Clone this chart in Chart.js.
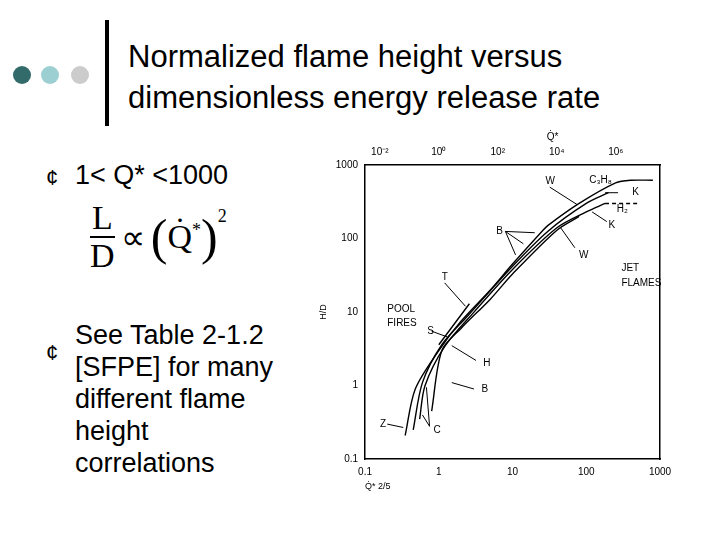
<!DOCTYPE html>
<html><head><meta charset="utf-8">
<script src="https://cdn.jsdelivr.net/npm/chart.js@4"></script>
<style>
body{margin:0;width:720px;height:540px;background:#fff;position:relative;overflow:hidden;font-family:"Liberation Sans",Arial,sans-serif}
.dot{position:absolute;width:18px;height:18px;border-radius:50%;top:66px}
.t{position:absolute;color:#000}
#wrap{position:absolute;left:314px;top:129px;width:380px;height:363px}
</style></head><body>
<div class="dot" style="left:13px;background:#336b6b"></div>
<div class="dot" style="left:41px;background:#9ccfd1"></div>
<div class="dot" style="left:71px;background:#cccccc"></div>
<div style="position:absolute;left:105px;top:20px;width:4px;height:106px;background:#000"></div>
<div class="t" style="left:128px;top:36px;font-size:31px;line-height:41px">Normalized flame height versus<br>dimensionless energy release rate</div>
<div class="t" style="left:46px;top:165px;font-size:22px">¢</div>
<div class="t" style="left:75px;top:160px;font-size:27px">1&lt; Q* &lt;1000</div>
<div class="t" style="left:90px;top:200px;font-family:'Liberation Serif',serif;font-size:34px;display:flex;align-items:center">
 <div style="text-align:center;line-height:36px"><div style="border-bottom:2px solid #000;padding:0 2px">L</div><div>D</div></div>
 <span style="margin:0 6px">∝</span><span style="font-size:50px">(</span><span>Q̇<sup style="font-size:18px">*</sup></span><span style="font-size:50px">)</span><sup style="font-size:18px;align-self:flex-start;margin-top:6px">2</sup>
</div>
<div class="t" style="left:46px;top:340px;font-size:22px">¢</div>
<div class="t" style="left:75px;top:319px;font-size:27px;line-height:32px">See Table 2-1.2<br>[SFPE] for many<br>different flame<br>height<br>correlations</div>
<div id="wrap"><canvas id="c"></canvas></div>
<script>
const xTicks=[0.1,1,10,100,1000];
const yTicks=[0.1,1,10,100,1000];
const topTicks=[0.01,1,100,10000,1000000];
const topLabels=["10⁻²","10⁰","10²","10⁴","10⁶"];
const curveC3H8=[[0.35,0.21],[0.48,0.9],[1.0,3.0],[2,7.5],[5,20],[10,45],[25,125],[30,150],[80,300],[250,570],[400,620],[800,620]];
const curveK=[[0.45,0.25],[0.6,1.1],[1.1,3.6],[2.5,9],[10,42],[30,125],[100,300],[200,420]];
const curveH2=[[0.55,0.35],[0.65,1.0],[1.2,3.4],[3,10],[10,38],[40,140],[100,230],[180,300]];
const curveH2dash=[[180,300],[500,300]];
const curveB=[[0.8,0.45],[1.1,3],[2,6],[5,15],[10,33],[40,130],[80,200]];
const curveT=[[1,3.6],[2.6,13]];
const labels=[["W",[28,600]],["C₃H₈",[110,620]],["K",[420,420]],["H₂",[260,250]],["B",[6,125]],["K",[200,150]],["W",[80,60]],["T",[1.1,30]],["JET",[300,40]],["FLAMES",[300,25]],["POOL",[0.2,11]],["FIRES",[0.2,7]],["S",[0.7,5.5]],["H",[4,2]],["B",[3.8,0.9]],["Z",[0.16,0.3]],["C",[0.85,0.25]]];
const leaders=[[[32,500],[75,290]],[[270,420],[180,420]],[[190,170],[120,230]],[[8,125],[20,120]],[[8,125],[14,85]],[[8,125],[11,60]],[[70,75],[45,140]],[[1.2,25],[2.3,12]],[[0.8,5.5],[1.3,4.6]],[[3.2,2.2],[1.5,3.5]],[[3,0.9],[1.5,1.1]],[[0.2,0.3],[0.33,0.27]],[[0.75,0.28],[0.6,0.4]],[[0.75,0.28],[0.68,0.95]]];
const mk=(d,dash)=>({data:d.map(p=>({x:p[0],y:p[1]})),borderColor:'#000',borderWidth:1.4,pointRadius:0,borderDash:dash||[],tension:0.3,fill:false,xAxisID:'x',yAxisID:'y'});
const ann={id:'ann',afterDatasetsDraw(ch){const c=ch.ctx,x=ch.scales.x,y=ch.scales.y;c.save();c.strokeStyle='#000';c.lineWidth=1;
leaders.forEach(l=>{c.beginPath();c.moveTo(x.getPixelForValue(l[0][0]),y.getPixelForValue(l[0][1]));c.lineTo(x.getPixelForValue(l[1][0]),y.getPixelForValue(l[1][1]));c.stroke();});
c.fillStyle='#000';c.font='10px "Liberation Sans",Arial';c.textAlign='left';c.textBaseline='middle';
labels.forEach(l=>c.fillText(l[0],x.getPixelForValue(l[1][0]),y.getPixelForValue(l[1][1])));
c.font='10px "Liberation Sans"';c.textAlign='center';const t=ch.scales.x2;c.fillText('Q̇*',(x.left+x.right)/2+40,t.top-6);
c.restore();}};
new Chart(document.getElementById('c'),{type:'line',
data:{datasets:[mk(curveC3H8),mk(curveK),mk(curveH2),mk(curveH2dash,[4,3]),mk(curveB),mk(curveT)]},
options:{responsive:true,maintainAspectRatio:false,animation:false,
layout:{padding:{top:14,right:30}},
plugins:{legend:{display:false},tooltip:{enabled:false}},
scales:{
x:{type:'logarithmic',min:0.1,max:1000,afterBuildTicks:s=>{s.ticks=xTicks.map(v=>({value:v}))},
ticks:{color:'#000',font:{size:10},maxRotation:0,callback:v=>String(v)},grid:{display:false,drawTicks:true,tickLength:4},border:{color:'#000',width:1.5},
title:{display:true,text:'Q̇* 2/5',color:'#000',font:{size:9},align:'start',padding:0}},
x2:{type:'logarithmic',position:'top',min:Math.pow(10,-2.5),max:Math.pow(10,7.5),afterBuildTicks:s=>{s.ticks=topTicks.map(v=>({value:v}))},
ticks:{color:'#000',font:{size:10},maxRotation:0,callback:(v)=>topLabels[topTicks.indexOf(v)]??''},grid:{display:false,tickLength:4},border:{color:'#000',width:1.5}},
y:{type:'logarithmic',min:0.1,max:1000,afterBuildTicks:s=>{s.ticks=yTicks.map(v=>({value:v}))},
ticks:{color:'#000',font:{size:10},callback:v=>String(v)},grid:{display:false,tickLength:4},border:{color:'#000',width:1.5},
title:{display:true,text:'H/D',color:'#000',font:{size:9}}},
y2:{type:'logarithmic',position:'right',min:0.1,max:1000,ticks:{display:false},grid:{display:false,tickLength:4},border:{color:'#000',width:1.5}}
}},plugins:[ann]});
</script></body></html>
